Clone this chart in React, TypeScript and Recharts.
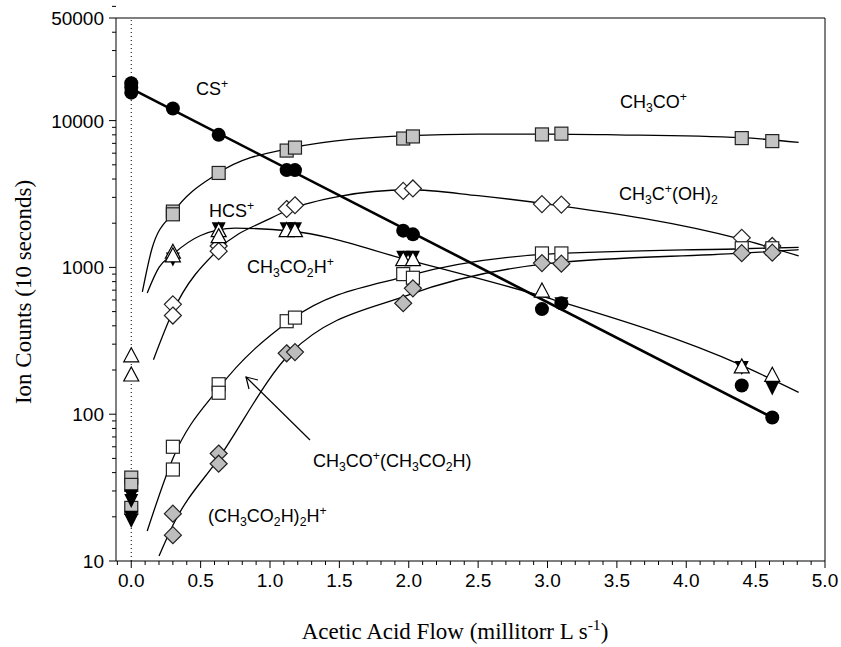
import React from 'react';
import { ComposedChart, Line, Scatter, XAxis, YAxis, ReferenceLine } from 'recharts';

// measured points (acetic acid flow, ion counts)
const csPoints = [
  { x: 0, y: 18000 }, { x: 0, y: 16800 }, { x: 0, y: 15500 },
  { x: 0.3, y: 12100 }, { x: 0.63, y: 8000 },
  { x: 1.12, y: 4600 }, { x: 1.18, y: 4600 },
  { x: 1.96, y: 1780 }, { x: 2.03, y: 1680 },
  { x: 2.96, y: 520 }, { x: 3.1, y: 570 },
  { x: 4.4, y: 157 }, { x: 4.62, y: 95 },
];
const acyliumPoints = [
  { x: 0, y: 37 }, { x: 0, y: 33 }, { x: 0, y: 23 },
  { x: 0.3, y: 2400 }, { x: 0.3, y: 2300 }, { x: 0.63, y: 4400 },
  { x: 1.12, y: 6250 }, { x: 1.18, y: 6550 },
  { x: 1.96, y: 7550 }, { x: 2.03, y: 7800 },
  { x: 2.96, y: 8050 }, { x: 3.1, y: 8150 },
  { x: 4.4, y: 7600 }, { x: 4.62, y: 7250 },
];
const protonatedPoints = [
  { x: 0.3, y: 560 }, { x: 0.3, y: 470 },
  { x: 0.63, y: 1400 }, { x: 0.63, y: 1290 },
  { x: 1.12, y: 2500 }, { x: 1.18, y: 2650 },
  { x: 1.96, y: 3320 }, { x: 2.03, y: 3450 },
  { x: 2.96, y: 2700 }, { x: 3.1, y: 2680 },
  { x: 4.4, y: 1590 }, { x: 4.62, y: 1400 },
];
const hcsPoints = [
  { x: 0, y: 250 }, { x: 0, y: 185 },
  { x: 0.3, y: 1270 }, { x: 0.3, y: 1200 },
  { x: 0.63, y: 1780 }, { x: 0.63, y: 1620 },
  { x: 1.12, y: 1780 }, { x: 1.18, y: 1780 },
  { x: 1.96, y: 1130 }, { x: 2.03, y: 1130 },
  { x: 2.96, y: 690 },
  { x: 4.4, y: 210 }, { x: 4.62, y: 184 },
];
const acidIonPoints = [
  { x: 0, y: 28 }, { x: 0, y: 26 }, { x: 0, y: 20 }, { x: 0, y: 19 },
  { x: 0.3, y: 1150 }, { x: 0.63, y: 1850 },
  { x: 1.12, y: 1850 }, { x: 1.18, y: 1850 },
  { x: 1.96, y: 1180 }, { x: 2.03, y: 1180 },
  { x: 3.1, y: 570 },
  { x: 4.4, y: 210 }, { x: 4.62, y: 152 },
];
const adductPoints = [
  { x: 0.3, y: 60 }, { x: 0.3, y: 42 },
  { x: 0.63, y: 160 }, { x: 0.63, y: 140 },
  { x: 1.12, y: 430 }, { x: 1.18, y: 455 },
  { x: 1.96, y: 900 }, { x: 2.03, y: 850 },
  { x: 2.96, y: 1245 }, { x: 3.1, y: 1245 },
  { x: 4.4, y: 1350 }, { x: 4.62, y: 1350 },
];
const dimerPoints = [
  { x: 0.3, y: 21 }, { x: 0.3, y: 15 },
  { x: 0.63, y: 54 }, { x: 0.63, y: 46 },
  { x: 1.12, y: 260 }, { x: 1.18, y: 265 },
  { x: 1.96, y: 570 }, { x: 2.03, y: 720 },
  { x: 2.96, y: 1070 }, { x: 3.1, y: 1060 },
  { x: 4.4, y: 1250 }, { x: 4.62, y: 1260 },
];

// fitted curves
const csFit = [{ x: 0, y: 16500 }, { x: 4.62, y: 95 }];
const acyliumFit = [
  { x: 0.08, y: 680 }, { x: 0.15, y: 1350 }, { x: 0.3, y: 2350 }, { x: 0.63, y: 4400 },
  { x: 1.15, y: 6500 }, { x: 2.0, y: 7900 }, { x: 2.5, y: 8100 }, { x: 3.0, y: 8100 },
  { x: 3.5, y: 8000 }, { x: 4.4, y: 7650 }, { x: 4.81, y: 7100 },
];
const protonatedFit = [
  { x: 0.16, y: 235 }, { x: 0.3, y: 500 }, { x: 0.63, y: 1330 }, { x: 1.0, y: 2150 },
  { x: 1.15, y: 2500 }, { x: 1.5, y: 3050 }, { x: 2.0, y: 3380 }, { x: 2.5, y: 3080 },
  { x: 3.0, y: 2700 }, { x: 4.4, y: 1550 }, { x: 4.81, y: 1200 },
];
const hcsFit = [
  { x: 0.115, y: 670 }, { x: 0.2, y: 1000 }, { x: 0.3, y: 1230 }, { x: 0.5, y: 1650 },
  { x: 0.75, y: 1850 }, { x: 1.15, y: 1770 }, { x: 2.0, y: 1120 }, { x: 3.0, y: 620 },
  { x: 4.4, y: 215 }, { x: 4.81, y: 141 },
];
const adductFit = [
  { x: 0.115, y: 16 }, { x: 0.3, y: 50 }, { x: 0.63, y: 150 }, { x: 1.15, y: 440 },
  { x: 2.0, y: 880 }, { x: 3.0, y: 1230 }, { x: 4.4, y: 1340 }, { x: 4.81, y: 1370 },
];
const dimerFit = [
  { x: 0.2, y: 10.8 }, { x: 0.3, y: 17.5 }, { x: 0.63, y: 50 }, { x: 1.15, y: 262 },
  { x: 2.0, y: 650 }, { x: 3.0, y: 1060 }, { x: 4.4, y: 1250 }, { x: 4.81, y: 1320 },
];

const xLabels = [0, 0.5, 1, 1.5, 2, 2.5, 3, 3.5, 4, 4.5, 5];
const xTicks = Array.from({ length: 52 }, (_, i) => (i - 1) / 10);
const yLabels = [10, 100, 1000, 10000, 50000];
const yTicks = [10, 100, 1000, 10000].flatMap((d) => [1, 2, 3, 4, 5, 6, 7, 8, 9].map((m) => m * d)).concat([20000, 30000, 40000, 50000]).filter((v, i, a) => a.indexOf(v) === i);

const sans = '"Liberation Sans", Arial, Helvetica, sans-serif';
const serif = '"Liberation Serif", "Times New Roman", serif';

const XTick = (props: any) => {
  const { x, y, payload } = props;
  const v = payload.value;
  const major = xLabels.some((l) => Math.abs(l - v) < 1e-6);
  return (
    <g>
      <line x1={x} x2={x} y1={y} y2={y + (major ? 7 : 4)} stroke="#000" />
      {major && (
        <text x={x} y={y + 26} textAnchor="middle" fontFamily={sans} fontSize={19} fill="#000">
          {v.toFixed(1)}
        </text>
      )}
    </g>
  );
};

const YTick = (props: any) => {
  const { x, y, payload } = props;
  const major = yLabels.includes(payload.value);
  return (
    <g>
      <line x1={x} x2={x - (major ? 7 : 4)} y1={y} y2={y} stroke="#000" />
      {major && (
        <text x={x - 12} y={y + 7} textAnchor="end" fontFamily={sans} fontSize={19} fill="#000">
          {payload.value}
        </text>
      )}
    </g>
  );
};

const dot = (p: any) => <circle cx={p.cx} cy={p.cy} r={7} fill="#000" />;
const square = (fill: string) => (p: any) => (
  <rect x={p.cx - 6.5} y={p.cy - 6.5} width={13} height={13} fill={fill} stroke="#222" strokeWidth={1.2} />
);
const diamond = (fill: string) => (p: any) => (
  <polygon
    points={`${p.cx},${p.cy - 8.5} ${p.cx + 8.5},${p.cy} ${p.cx},${p.cy + 8.5} ${p.cx - 8.5},${p.cy}`}
    fill={fill}
    stroke="#222"
    strokeWidth={1.2}
  />
);
const triUp = (p: any) => (
  <polygon
    points={`${p.cx},${p.cy - 8} ${p.cx + 7.5},${p.cy + 6} ${p.cx - 7.5},${p.cy + 6}`}
    fill="#fff"
    stroke="#000"
    strokeWidth={1.2}
  />
);
const triDown = (p: any) => (
  <polygon points={`${p.cx - 7},${p.cy - 6} ${p.cx + 7},${p.cy - 6} ${p.cx},${p.cy + 8}`} fill="#000" />
);

const subStyle: React.CSSProperties = { fontSize: '0.68em', verticalAlign: '-0.35em', lineHeight: 0 };
const supStyle: React.CSSProperties = { fontSize: '0.68em', verticalAlign: '0.6em', lineHeight: 0 };
const Sub = ({ children }: any) => <span style={subStyle}>{children}</span>;
const Sup = ({ children }: any) => <span style={supStyle}>{children}</span>;

const Tag = ({ left, top, children }: any) => (
  <div style={{ position: 'absolute', left, top, fontFamily: sans, fontSize: 18, lineHeight: '18px', whiteSpace: 'nowrap', color: '#000' }}>
    {children}
  </div>
);

export default function App() {
  return (
    <div style={{ position: 'absolute', left: 0, top: 0, width: 841, height: 647, background: '#fff' }}>
      <ComposedChart width={841} height={647} margin={{ top: 18, right: 16, left: 0, bottom: 0 }}>
        <XAxis
          dataKey="x"
          type="number"
          domain={[-0.11, 5]}
          ticks={xTicks}
          interval={0}
          tick={<XTick />}
          tickLine={false}
          tickSize={0}
          tickMargin={0}
          height={86}
          allowDataOverflow
          axisLine={{ stroke: '#000' }}
        />
        <YAxis
          dataKey="y"
          type="number"
          scale="log"
          domain={[10, 50000]}
          ticks={yTicks}
          interval={0}
          tick={<YTick />}
          tickLine={false}
          tickSize={0}
          tickMargin={0}
          width={116}
          allowDataOverflow
          axisLine={{ stroke: '#000' }}
        />
        <ReferenceLine x={0} stroke="#000" strokeDasharray="1 3" />
        <ReferenceLine x={5} stroke="#000" />
        <ReferenceLine y={50000} stroke="#000" />

        <Line data={acyliumFit} dataKey="y" type="monotone" stroke="#000" strokeWidth={1.3} dot={false} isAnimationActive={false} />
        <Line data={protonatedFit} dataKey="y" type="monotone" stroke="#000" strokeWidth={1.3} dot={false} isAnimationActive={false} />
        <Line data={hcsFit} dataKey="y" type="monotone" stroke="#000" strokeWidth={1.3} dot={false} isAnimationActive={false} />
        <Line data={adductFit} dataKey="y" type="monotone" stroke="#000" strokeWidth={1.3} dot={false} isAnimationActive={false} />
        <Line data={dimerFit} dataKey="y" type="monotone" stroke="#000" strokeWidth={1.3} dot={false} isAnimationActive={false} />
        <Line data={csFit} dataKey="y" type="linear" stroke="#000" strokeWidth={2.6} dot={false} isAnimationActive={false} />

        <Scatter data={acyliumPoints} dataKey="y" shape={square('#c4c4c4')} isAnimationActive={false} />
        <Scatter data={protonatedPoints} dataKey="y" shape={diamond('#fff')} isAnimationActive={false} />
        <Scatter data={adductPoints} dataKey="y" shape={square('#fff')} isAnimationActive={false} />
        <Scatter data={dimerPoints} dataKey="y" shape={diamond('#bdbdbd')} isAnimationActive={false} />
        <Scatter data={acidIonPoints} dataKey="y" shape={triDown} isAnimationActive={false} />
        <Scatter data={hcsPoints} dataKey="y" shape={triUp} isAnimationActive={false} />
        <Scatter data={csPoints} dataKey="y" shape={dot} isAnimationActive={false} />
      </ComposedChart>

      <Tag left={196} top={80}>CS<Sup>+</Sup></Tag>
      <Tag left={620} top={93}>CH<Sub>3</Sub>CO<Sup>+</Sup></Tag>
      <Tag left={619} top={185}>CH<Sub>3</Sub>C<Sup>+</Sup>(OH)<Sub>2</Sub></Tag>
      <Tag left={209} top={202}>HCS<Sup>+</Sup></Tag>
      <Tag left={247} top={258}>CH<Sub>3</Sub>CO<Sub>2</Sub>H<Sup>+</Sup></Tag>
      <Tag left={313} top={452}>CH<Sub>3</Sub>CO<Sup>+</Sup>(CH<Sub>3</Sub>CO<Sub>2</Sub>H)</Tag>
      <Tag left={208} top={507}>(CH<Sub>3</Sub>CO<Sub>2</Sub>H)<Sub>2</Sub>H<Sup>+</Sup></Tag>

      <svg width={841} height={647} style={{ position: 'absolute', left: 0, top: 0, pointerEvents: 'none' }}>
        <line x1={310} y1={440} x2={246} y2={377} stroke="#000" strokeWidth={1.2} />
        <polyline points="249,389 246,377 258,380" fill="none" stroke="#000" strokeWidth={1.2} />
      </svg>

      <div style={{ position: 'absolute', left: 0, top: 620, width: 910, textAlign: 'center', fontFamily: serif, fontSize: 23, lineHeight: '24px', color: '#000' }}>
        Acetic Acid Flow (millitorr L s<Sup>-1</Sup>)
      </div>
      <div
        style={{
          position: 'absolute', left: 24, top: 292, transform: 'translate(-50%, -50%) rotate(-90deg)',
          fontFamily: serif, fontSize: 23, lineHeight: '24px', whiteSpace: 'nowrap', color: '#000',
        }}
      >
        Ion Counts (10 seconds)
      </div>
    </div>
  );
}
